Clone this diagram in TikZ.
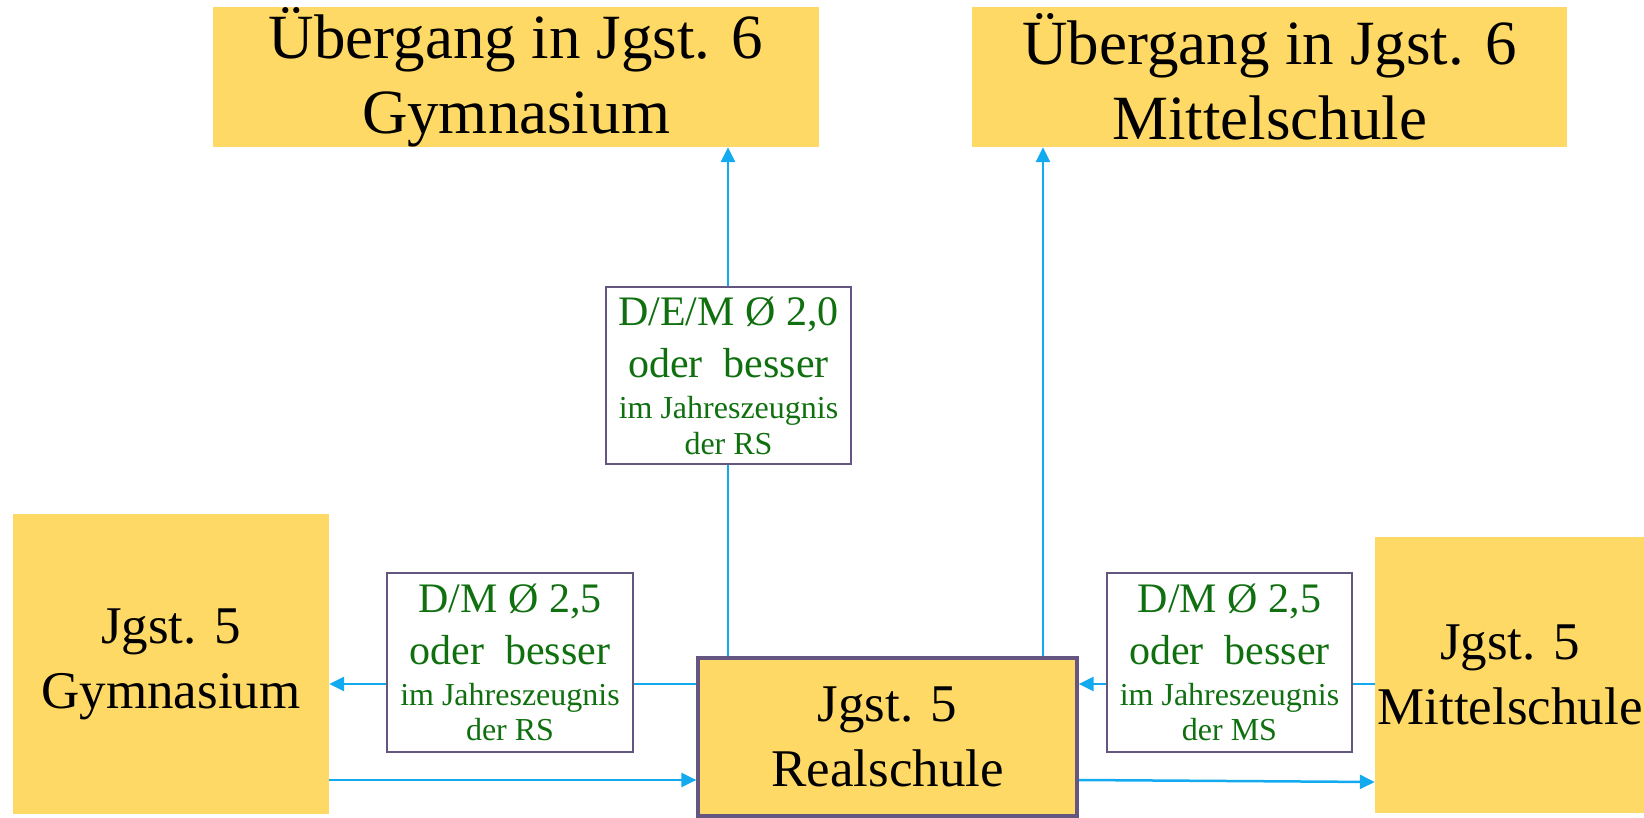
\documentclass[tikz,border=0pt]{standalone}
\usepackage{fontspec}
\setmainfont{Liberation Serif}
\usetikzlibrary{arrows.meta,backgrounds}
\definecolor{boxyellow}{RGB}{255,217,102}
\definecolor{flowblue}{RGB}{20,170,240}
\definecolor{rulegreen}{RGB}{16,112,16}
\definecolor{rulepurple}{RGB}{100,86,128}

\begin{document}
\begin{tikzpicture}[x=1pt,y=1pt,
  box/.style={fill=boxyellow,inner sep=0pt,align=center,font=\fontsize{53}{65}\selectfont},
  goal/.style={box,font=\fontsize{63}{75}\selectfont},
  rule/.style={draw=rulepurple,line width=2.7pt,fill=white,inner sep=0pt,align=center,
    text=rulegreen,font=\fontsize{42}{52}\selectfont},
  flow/.style={draw=flowblue,line width=2.5pt,-{Triangle[length=15pt,width=14pt]}}]
  \useasboundingbox (0,0) rectangle (1644,817);

  \node[goal,minimum width=606,minimum height=140] (gym6) at (516,740)
    {Übergang in Jgst. 6\\Gymnasium};
  \node[goal,minimum width=595,minimum height=140] (ms6) at (1269.5,740)
    {Übergang in Jgst. 6\\Mittelschule};
  \node[box,minimum width=316,minimum height=300] (gym5) at (171,153)
    {Jgst. 5\\Gymnasium};
  \node[box,draw=rulepurple,line width=3.2pt,minimum width=379,minimum height=158] (rs5) at (887.5,80)
    {Jgst. 5\\Realschule};
  \node[box,minimum width=270,minimum height=276] (ms5) at (1510,142)
    {Jgst. 5\\Mittelschule};

  \node[rule,minimum width=245,minimum height=177] (ruleup) at (728.5,441.5)
    {D/E/M Ø 2,0\\oder\ \ besser\\[-11pt]{\fontsize{32}{37}\selectfont im Jahreszeugnis}\\[-16pt]{\fontsize{32}{37}\selectfont der RS}};
  \node[rule,minimum width=246,minimum height=179] (ruleleft) at (510,154.5)
    {D/M Ø 2,5\\oder\ \ besser\\[-11pt]{\fontsize{32}{37}\selectfont im Jahreszeugnis}\\[-17pt]{\fontsize{32}{37}\selectfont der RS}};
  \node[rule,minimum width=245,minimum height=179] (ruleright) at (1229.5,154.5)
    {D/M Ø 2,5\\oder\ \ besser\\[-11pt]{\fontsize{32}{37}\selectfont im Jahreszeugnis}\\[-17pt]{\fontsize{32}{37}\selectfont der MS}};

  \begin{scope}[on background layer]
    \draw[flow] ([xshift=-159.5pt]rs5.north) -- ([xshift=-159.5pt]rs5.north |- gym6.south);
    \draw[flow] ([xshift=155.5pt]rs5.north) -- ([xshift=155.5pt]rs5.north |- ms6.south);
    \draw[flow] ([yshift=53pt]rs5.west) -- ([yshift=53pt]rs5.west -| gym5.east);
    \draw[flow] ([yshift=-43pt]rs5.west -| gym5.east) -- ([yshift=-43pt]rs5.west);
    \draw[flow] ([yshift=53pt]rs5.east -| ms5.west) -- ([yshift=53pt]rs5.east);
    \draw[flow] ([yshift=-43pt]rs5.east) -- ([yshift=-45pt]rs5.east -| ms5.west);
  \end{scope}
\end{tikzpicture}
\end{document}
